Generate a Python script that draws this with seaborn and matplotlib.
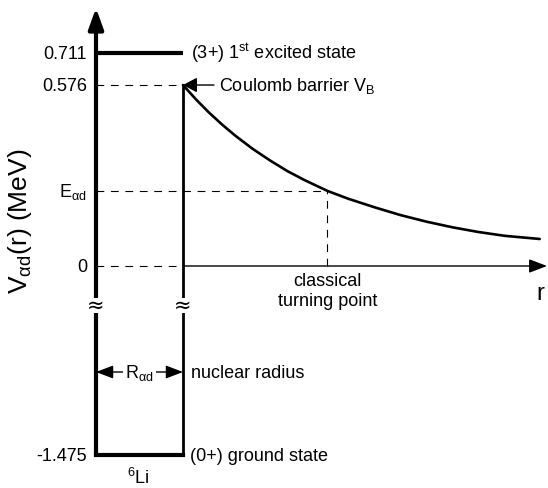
import numpy as np
import matplotlib
matplotlib.use("Agg")
import matplotlib.pyplot as plt
import matplotlib.transforms as mtransforms
from matplotlib.patches import Rectangle
import seaborn as sns

# Energy levels of 6Li relative to the alpha+d threshold (MeV)
level_energies = [0.711, 0.576, 0.0, -1.475]
level_labels = ["0.711", "0.576", "0", "-1.475"]
E_ad = 0.239
E_ad_label = r"E$_{\mathregular{αd}}$"

# Radii in units of the nuclear radius R_ad
r_wall = 1.0
r_turn = 2.66

# Coulomb barrier outside the nuclear radius
curve_r = [1.0, 1.15, 1.3, 1.45, 1.6, 1.8, 2.0, 2.2, 2.4, 2.66,
           2.9, 3.2, 3.5, 3.8, 4.1, 4.4, 4.7, 5.1]
curve_V = [0.576, 0.530, 0.488, 0.450, 0.415, 0.373, 0.336, 0.302, 0.273, 0.239,
           0.214, 0.187, 0.162, 0.141, 0.123, 0.108, 0.096, 0.086]

# ---------------------------------------------------------------------------
# Schematic energy scale: bound region compressed below the axis break,
# levels above the barrier top slightly compressed as well.
K_LOW = 0.4078
K_HIGH = 0.7556
_e = np.array([-20.0, 0.0, 0.576, 20.0])
_p = np.array([-20.0 * K_LOW, 0.0, 0.576, 0.576 + (20.0 - 0.576) * K_HIGH])


def fwd(e):
    return np.interp(e, _e, _p)


def inv(p):
    return np.interp(p, _p, _e)


sns.set_style("white")
plt.rcParams["font.family"] = ["Liberation Sans", "DejaVu Sans"]
plt.rcParams["mathtext.default"] = "regular"

W, H = 548, 488
fig = plt.figure(figsize=(W / 100, H / 100), dpi=100)
ax = fig.add_axes([0, 0, 1, 1])
ax.set_yscale("function", functions=(fwd, inv))
ax.axis("off")

PX_X = 87.0      # pixels per unit radius
PX_Y = 314.2     # pixels per MeV (uncompressed part)
X0, Y0 = 96.0, 266.0


def rx(px):
    return (px - X0) / PX_X


def ay(py):
    return 1.0 - py / H


blend = mtransforms.blended_transform_factory(ax.transData, ax.transAxes)
FS = 13
K = "black"

# Coulomb barrier
sns.lineplot(x=curve_r, y=curve_V, ax=ax, color=K, lw=1.9, sort=False)
for ln in ax.lines:
    ln.set_solid_joinstyle("round")
    ln.set_solid_capstyle("round")

# Nuclear well: levels and walls
e_exc, e_top, e_zero, e_gs = level_energies
ax.plot([0, r_wall], [e_exc, e_exc], color=K, lw=3.0, solid_capstyle="butt")
ax.plot([0, r_wall], [e_gs, e_gs], color=K, lw=3.0, solid_capstyle="projecting")
ax.plot([r_wall, r_wall], [e_gs, e_top], color=K, lw=2.0, solid_capstyle="butt")

# Energy axis with arrow
ax.annotate("", xy=(0, ay(8)), xycoords=blend, xytext=(0, e_gs), textcoords="data",
            arrowprops=dict(arrowstyle="-|>,head_length=1.25,head_width=0.45",
                            mutation_scale=10, lw=3.0, color=K,
                            shrinkA=0, shrinkB=0))
# Radial axis with arrow
ax.annotate("", xy=(rx(547), 0.0), xytext=(r_wall, 0.0),
            arrowprops=dict(arrowstyle="-|>,head_length=1.1,head_width=0.42",
                            mutation_scale=10, lw=1.0, color=K,
                            shrinkA=0, shrinkB=0))

# Dashed guides
dash = dict(color=K, lw=0.8, dashes=(7, 6))
ax.plot([0, r_wall], [e_top, e_top], **dash)
ax.plot([0, r_turn], [E_ad, E_ad], **dash)
ax.plot([0, r_wall], [e_zero, e_zero], **dash)
ax.plot([r_turn, r_turn], [e_zero, E_ad], **dash)

# Axis break marks
for xb in (0.0, r_wall):
    ax.add_patch(Rectangle((xb - rx(X0 + 6), ay(313)), 2 * rx(X0 + 6), ay(298) - ay(313),
                           transform=blend, facecolor="white", edgecolor="none", zorder=5))
    ax.text(xb, ay(306), "≈", transform=blend, ha="center", va="center",
            fontsize=15, family="DejaVu Sans", color=K, zorder=6)

# Level labels on the energy axis
BASE = -4.6  # points from the line to the text baseline


def put(x, y, s, ha="left", coords="data", size=FS):
    ax.annotate(s, xy=(x, y), xycoords=(blend if coords == "blend" else "data"),
                xytext=(0, BASE * size / FS), textcoords="offset points",
                ha=ha, va="baseline", fontsize=size, color=K)


xl = rx(87)
for e, lab in zip(level_energies, level_labels):
    put(xl, e, lab, ha="right")
put(xl, E_ad, E_ad_label, ha="right")

# Right-hand annotations
put(rx(191), e_exc, r"(3+) 1$^{\mathregular{st}}$ excited state")
put(rx(219), e_top, r"Coulomb barrier V$_{\mathregular{B}}$")
ax.annotate("", xy=(r_wall, e_top), xytext=(rx(214), e_top),
            arrowprops=dict(arrowstyle="-|>,head_length=0.85,head_width=0.45",
                            mutation_scale=10, lw=1.0, color=K,
                            shrinkA=0, shrinkB=0))
put(rx(190), e_gs, "(0+) ground state")

# Nuclear radius marker
yR = ay(372)
ax.annotate("", xy=(0, yR), xycoords=blend, xytext=(r_wall, yR), textcoords=blend,
            arrowprops=dict(arrowstyle="<|-|>,head_length=1.05,head_width=0.4",
                            mutation_scale=10, lw=1.0, color=K,
                            shrinkA=0, shrinkB=0))
ax.annotate(r"R$_{\mathregular{αd}}$", xy=(r_wall / 2, yR), xycoords=blend,
            xytext=(0, BASE), textcoords="offset points", ha="center", va="baseline",
            fontsize=FS, color=K,
            bbox=dict(boxstyle="square,pad=0.12", facecolor="white", edgecolor="none"))
put(rx(191), yR, "nuclear radius", coords="blend")

# Nucleus name
ax.text(rx(138.5), ay(484), r"$^{\mathregular{6}}$Li", transform=blend,
        ha="center", va="baseline", fontsize=FS, color=K)

# Turning point and radial variable
ax.text(r_turn, ay(273), "classical\nturning point", transform=blend,
        ha="center", va="top", fontsize=FS, color=K, linespacing=1.2)
ax.text(rx(536), ay(300), "r", transform=blend, ha="left", va="baseline",
        fontsize=17, color=K)

# Vertical axis title
fig.text(20 / W, 1 - 221 / H, r"V$_{\mathregular{αd}}$(r) (MeV)", rotation=90,
         ha="center", va="center", fontsize=19, color=K)

ax.set_xlim(rx(0), rx(W))
ax.set_ylim(inv((Y0 - H) / PX_Y), inv(Y0 / PX_Y))

fig.savefig("out.png", dpi=100)
